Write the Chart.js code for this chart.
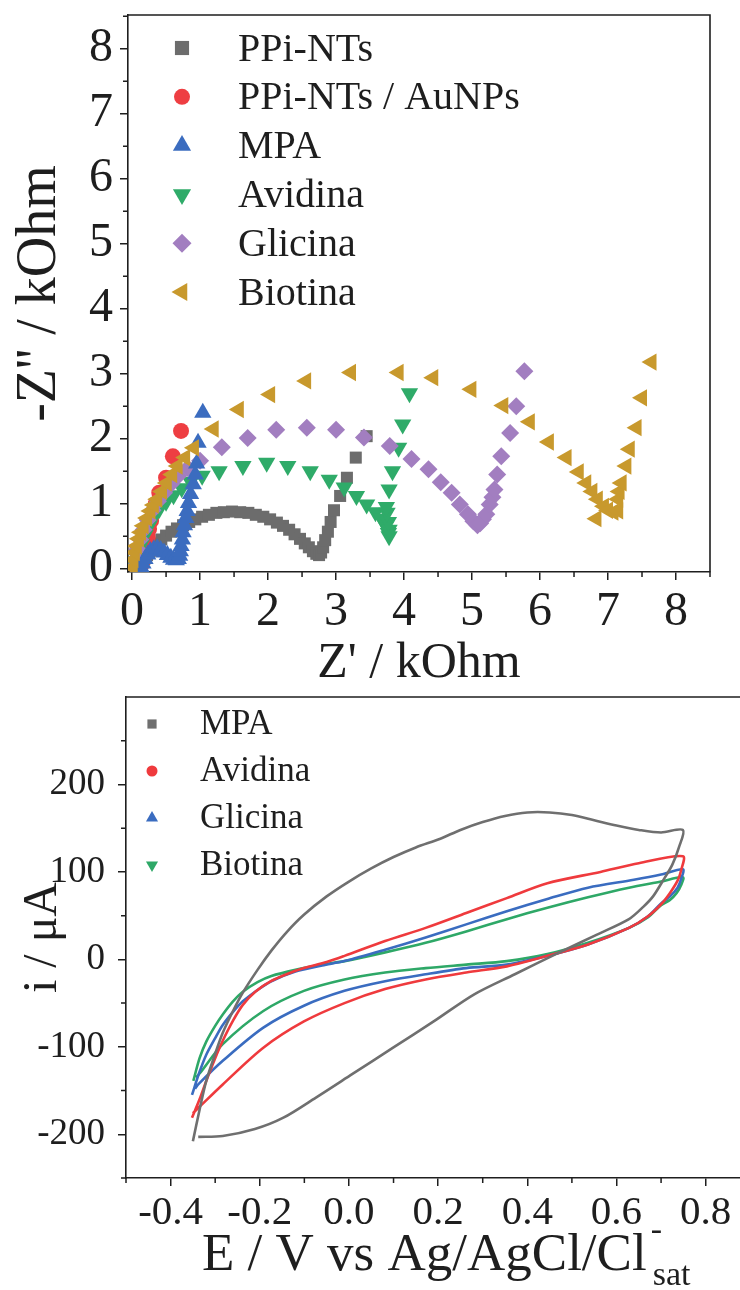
<!DOCTYPE html>
<html>
<head>
<meta charset="utf-8">
<script src="https://cdn.jsdelivr.net/npm/chart.js@4.4.1/dist/chart.umd.min.js"></script>
<style>
  html, body { margin: 0; padding: 0; background: #fff; }
  body { width: 740px; height: 1290px; position: relative; overflow: hidden; }
  .panel { position: absolute; left: 0; width: 740px; }
  #eisBox { top: 0; height: 700px; }
  #cvBox { top: 680px; height: 610px; }
</style>
</head>
<body>
<div class="panel" id="eisBox"><canvas id="eisChart"></canvas></div>
<div class="panel" id="cvBox"><canvas id="cvChart"></canvas></div>
<script>
// ---- Nyquist data, [Z' kOhm, -Z'' kOhm] ----
const ppiNts = [[0.10,0.00],[0.12,0.04],[0.15,0.09],[0.18,0.15],[0.22,0.21],[0.26,0.27],[0.31,0.33],[0.37,0.39],[0.43,0.45],[0.50,0.51],[0.58,0.57],[0.66,0.62],[0.75,0.67],[0.84,0.72],[0.93,0.76],[1.03,0.80],[1.13,0.83],[1.24,0.86],[1.35,0.87],[1.47,0.88],[1.59,0.87],[1.71,0.86],[1.82,0.83],[1.93,0.80],[2.03,0.76],[2.13,0.71],[2.22,0.66],[2.31,0.60],[2.39,0.53],[2.47,0.46],[2.54,0.39],[2.60,0.33],[2.66,0.27],[2.71,0.23],[2.75,0.21],[2.78,0.25],[2.81,0.33],[2.84,0.44],[2.88,0.57],[2.92,0.72],[2.97,0.90],[3.06,1.12],[3.16,1.40],[3.29,1.71],[3.45,2.04]];
const ppiNtsAu = [[0.11,0.00],[0.13,0.05],[0.15,0.11],[0.17,0.19],[0.19,0.28],[0.21,0.38],[0.23,0.49],[0.25,0.61],[0.28,0.74],[0.31,0.87],[0.35,1.00],[0.40,1.17],[0.50,1.40],[0.60,1.73],[0.72,2.12]];
const mpa = [[0.14,0.01],[0.16,0.08],[0.19,0.15],[0.23,0.22],[0.27,0.27],[0.32,0.30],[0.37,0.31],[0.42,0.29],[0.47,0.25],[0.52,0.21],[0.57,0.17],[0.61,0.14],[0.65,0.13],[0.68,0.15],[0.70,0.20],[0.71,0.27],[0.72,0.35],[0.74,0.45],[0.75,0.56],[0.77,0.67],[0.79,0.78],[0.81,0.89],[0.83,1.01],[0.86,1.15],[0.90,1.30],[0.93,1.45],[0.95,1.62],[0.97,1.94],[1.04,2.40]];
const avidina = [[0.05,0.02],[0.07,0.12],[0.10,0.25],[0.14,0.38],[0.19,0.52],[0.25,0.66],[0.32,0.80],[0.40,0.92],[0.50,1.03],[0.61,1.13],[0.73,1.24],[0.86,1.34],[1.03,1.43],[1.28,1.50],[1.63,1.58],[1.98,1.63],[2.29,1.58],[2.62,1.50],[2.90,1.37],[3.12,1.25],[3.30,1.12],[3.45,0.99],[3.58,0.87],[3.67,0.77],[3.73,0.66],[3.77,0.55],[3.78,0.50],[3.78,0.60],[3.77,0.72],[3.75,0.86],[3.74,0.95],[3.78,1.22],[3.83,1.50],[3.92,1.86],[3.98,2.22],[4.08,2.70]];
const glicina = [[0.03,0.03],[0.05,0.15],[0.08,0.30],[0.12,0.45],[0.17,0.60],[0.23,0.75],[0.30,0.90],[0.38,1.04],[0.47,1.17],[0.57,1.30],[0.68,1.43],[0.82,1.55],[1.00,1.66],[1.32,1.87],[1.70,2.01],[2.12,2.14],[2.57,2.17],[3.00,2.14],[3.41,2.02],[3.79,1.89],[4.11,1.69],[4.36,1.53],[4.54,1.33],[4.70,1.17],[4.82,0.99],[4.94,0.84],[5.02,0.73],[5.08,0.67],[5.12,0.70],[5.16,0.76],[5.21,0.84],[5.26,0.99],[5.30,1.10],[5.33,1.22],[5.37,1.45],[5.43,1.73],[5.56,2.09],[5.65,2.50],[5.77,3.04]];
const biotina = [[0.01,0.02],[0.02,0.14],[0.04,0.25],[0.07,0.35],[0.10,0.46],[0.13,0.56],[0.17,0.66],[0.22,0.78],[0.27,0.89],[0.32,0.98],[0.37,1.07],[0.44,1.19],[0.51,1.32],[0.59,1.45],[0.67,1.58],[0.78,1.71],[0.91,1.86],[1.20,2.15],[1.57,2.45],[2.03,2.68],[2.56,2.89],[3.22,3.02],[3.92,3.02],[4.43,2.94],[4.99,2.76],[5.46,2.51],[5.85,2.26],[6.13,1.95],[6.39,1.71],[6.57,1.49],[6.68,1.32],[6.77,1.19],[6.85,1.07],[6.94,0.96],[6.83,0.77],[7.00,0.90],[7.08,0.87],[7.15,0.89],[7.15,1.07],[7.17,1.19],[7.20,1.32],[7.27,1.58],[7.32,1.84],[7.42,2.17],[7.50,2.63],[7.64,3.18]];

const eisTicks = [0, 1, 2, 3, 4, 5, 6, 7, 8];
const eisMinor = [0.5, 1.5, 2.5, 3.5, 4.5, 5.5, 6.5, 7.5, 8.5];

// ---- voltammograms, [E / V, i / uA] ----
const cvMpa = [[-0.350,-208],[-0.335,-172],[-0.320,-139],[-0.300,-108],[-0.283,-84],[-0.260,-59],[-0.238,-38],[-0.205,-12],[-0.174,10],[-0.140,31],[-0.101,51],[-0.050,72],[0.000,89],[0.050,104],[0.100,117],[0.150,128],[0.205,138],[0.250,148],[0.300,157],[0.350,164],[0.400,168],[0.450,168],[0.500,165],[0.550,159],[0.600,153],[0.650,148],[0.700,145],[0.749,148],[0.740,128],[0.725,108],[0.703,89],[0.682,72],[0.660,60],[0.628,46],[0.555,28],[0.464,6],[0.372,-17],[0.281,-40],[0.190,-71],[0.099,-101],[0.008,-131],[-0.074,-158],[-0.147,-181],[-0.211,-194],[-0.283,-202],[-0.338,-203]];
const cvAvidina = [[-0.352,-181],[-0.335,-160],[-0.320,-139],[-0.300,-113],[-0.283,-93],[-0.260,-70],[-0.238,-52],[-0.210,-37],[-0.175,-25],[-0.140,-17],[-0.101,-10],[-0.050,-3],[-0.010,4],[0.081,21],[0.172,36],[0.263,53],[0.354,70],[0.445,87],[0.564,100],[0.650,110],[0.749,118],[0.745,102],[0.737,90],[0.720,76],[0.700,63],[0.670,49],[0.628,36],[0.536,17],[0.445,4],[0.354,-8],[0.263,-15],[0.172,-23],[0.081,-34],[-0.010,-50],[-0.101,-71],[-0.192,-101],[-0.283,-143],[-0.334,-168],[-0.350,-176]];
const cvGlicina = [[-0.352,-155],[-0.336,-130],[-0.320,-109],[-0.300,-90],[-0.283,-75],[-0.260,-60],[-0.238,-48],[-0.205,-35],[-0.174,-25],[-0.120,-14],[-0.060,-7],[-0.010,-2],[0.081,11],[0.172,25],[0.263,40],[0.354,55],[0.445,69],[0.536,82],[0.639,91],[0.700,97],[0.749,103],[0.745,92],[0.737,82],[0.720,72],[0.700,64],[0.670,49],[0.628,36],[0.536,17],[0.445,4],[0.354,-6],[0.263,-10],[0.172,-17],[0.081,-25],[-0.010,-36],[-0.101,-53],[-0.192,-78],[-0.283,-116],[-0.338,-143],[-0.345,-148]];
const cvBiotina = [[-0.349,-139],[-0.335,-113],[-0.320,-94],[-0.300,-76],[-0.283,-63],[-0.260,-48],[-0.238,-37],[-0.205,-26],[-0.174,-19],[-0.120,-12],[-0.060,-6],[-0.010,-2],[0.081,8],[0.172,19],[0.263,32],[0.354,46],[0.445,59],[0.536,71],[0.628,82],[0.700,89],[0.749,94],[0.745,85],[0.735,76],[0.720,68],[0.700,62],[0.670,48],[0.628,36],[0.536,19],[0.445,6],[0.354,-2],[0.263,-6],[0.172,-10],[0.081,-15],[-0.010,-23],[-0.101,-36],[-0.192,-59],[-0.283,-97],[-0.334,-130],[-0.343,-135]];

const cvXTicks = [-0.4, -0.2, 0, 0.2, 0.4, 0.6, 0.8];
const cvXMinor = [-0.5, -0.3, -0.1, 0.1, 0.3, 0.5, 0.7];
const cvYTicks = [-200, -100, 0, 100, 200];
const cvYMinor = [-250, -150, -50, 50, 150, 250];

const INK = '#1e1e1e';
const SERIF = "'Liberation Serif', 'Times New Roman', serif";
Chart.defaults.font.family = SERIF;
Chart.defaults.color = INK;

// short ticks between the labelled ones
const minorTicks = {
  id: 'minorTicks',
  afterDraw(chart, args, opts) {
    const { ctx, chartArea, scales } = chart;
    ctx.save();
    ctx.strokeStyle = INK;
    ctx.lineWidth = 1.5;
    ctx.beginPath();
    (opts.x || []).forEach(v => {
      const px = scales.x.getPixelForValue(v);
      ctx.moveTo(px, chartArea.bottom);
      ctx.lineTo(px, chartArea.bottom + opts.len);
    });
    (opts.y || []).forEach(v => {
      const py = scales.y.getPixelForValue(v);
      ctx.moveTo(chartArea.left - opts.len, py);
      ctx.lineTo(chartArea.left, py);
    });
    ctx.stroke();
    ctx.restore();
  }
};

// top (and right) edge of the frame
const frame = {
  id: 'frame',
  afterDraw(chart, args, opts) {
    const { ctx, chartArea } = chart;
    const right = opts.right ? chartArea.right : chart.width;
    ctx.save();
    ctx.strokeStyle = INK;
    ctx.lineWidth = 1.6;
    ctx.beginPath();
    ctx.moveTo(chartArea.left, chartArea.top);
    ctx.lineTo(right, chartArea.top);
    if (opts.right) ctx.lineTo(right, chartArea.bottom);
    ctx.stroke();
    ctx.restore();
  }
};

// legend inside the plot, marker + label per dataset
const markerLegend = {
  id: 'markerLegend',
  afterDatasetsDraw(chart, args, opts) {
    const { ctx, chartArea } = chart;
    ctx.save();
    ctx.font = `${opts.fontSize}px ${SERIF}`;
    ctx.textBaseline = 'middle';
    chart.data.datasets.forEach((ds, i) => {
      const y = chartArea.top + opts.top + i * opts.step;
      ctx.fillStyle = ds.legendColor || ds.backgroundColor;
      Chart.helpers.drawPoint(ctx, {
        pointStyle: ds.legendStyle || ds.pointStyle,
        rotation: ds.pointRotation || 0,
        radius: opts.radii[i],
        borderWidth: 0
      }, chartArea.left + opts.markerX, y);
      ctx.fillStyle = INK;
      ctx.fillText(ds.label, chartArea.left + opts.textX, y + opts.textDy);
    });
    ctx.restore();
  }
};

// x title with superscript / subscript
const cvTitle = {
  id: 'cvTitle',
  afterDraw(chart) {
    const { ctx } = chart;
    const main = 'E / V vs Ag/AgCl/Cl';
    ctx.save();
    ctx.fillStyle = INK;
    ctx.textBaseline = 'alphabetic';
    ctx.font = `53px ${SERIF}`;
    const x0 = 202, base = 590;
    ctx.fillText(main, x0, base);
    const w = ctx.measureText(main).width;
    ctx.font = `34px ${SERIF}`;
    ctx.fillText('-', x0 + w + 4, base - 30);
    ctx.fillText('sat', x0 + w + 6, base + 15);
    ctx.restore();
  }
};

// keep the plot box where the axes are, ignore label overhang
const noOverhang = s => { s.paddingTop = 0; s.paddingBottom = 0; s.paddingLeft = 0; s.paddingRight = 0; };

const axisGrid = { drawOnChartArea: false, tickLength: 8, color: INK, lineWidth: 1.5 };
const axisBorder = { color: INK, width: 1.6 };

function eisSet(label, data, color, style, rot, r, order) {
  return {
    label, data, order,
    backgroundColor: color, borderColor: color,
    pointStyle: style, pointRotation: rot, pointRadius: r, pointBorderWidth: 0,
    pointHoverRadius: r, showLine: false
  };
}

new Chart(document.getElementById('eisChart'), {
  type: 'scatter',
  data: {
    datasets: [
      eisSet('PPi-NTs', ppiNts, '#6c6c6c', 'rect', 0, 8.5, 6),
      eisSet('PPi-NTs / AuNPs', ppiNtsAu, '#ee3e42', 'circle', 0, 8, 5),
      eisSet('MPA', mpa, '#3b6cbf', 'triangle', 0, 10, 2),
      eisSet('Avidina', avidina, '#2fab69', 'triangle', 180, 10, 4),
      eisSet('Glicina', glicina, '#a27ec0', 'rectRot', 0, 9, 3),
      eisSet('Biotina', biotina, '#c8992d', 'triangle', -90, 10, 1)
    ]
  },
  options: {
    responsive: true,
    maintainAspectRatio: false,
    animation: false,
    layout: { padding: { top: 15, right: 30, left: 0, bottom: 0 } },
    plugins: {
      legend: { display: false },
      tooltip: { enabled: false },
      minorTicks: { x: eisMinor, y: eisMinor, len: 5 },
      frame: { right: true },
      markerLegend: { markerX: 54, textX: 110, top: 33, step: 48.8, fontSize: 40, textDy: 2, radii: [10, 8, 10.5, 10.5, 9.5, 10.5] }
    },
    scales: {
      x: {
        type: 'linear', min: -0.06, max: 8.5,
        afterBuildTicks: s => { s.ticks = eisTicks.map(v => ({ value: v })); },
        afterFit: s => { s.height = 128; noOverhang(s); },
        ticks: { font: { size: 48 }, padding: 4, autoSkip: false, maxRotation: 0, callback: v => String(v) },
        grid: axisGrid, border: axisBorder,
        title: { display: true, text: "Z' / kOhm", font: { size: 50 }, padding: { top: 0, bottom: 6 } }
      },
      y: {
        type: 'linear', min: -0.05, max: 8.52,
        afterBuildTicks: s => { s.ticks = eisTicks.map(v => ({ value: v })); },
        afterFit: s => { s.width = 128; noOverhang(s); },
        ticks: { font: { size: 48 }, padding: 7, autoSkip: false, callback: v => String(v) },
        grid: axisGrid, border: axisBorder,
        title: { display: true, text: "-Z'' / kOhm", font: { size: 56 }, padding: { top: 7, bottom: 0 } }
      }
    }
  },
  plugins: [minorTicks, frame, markerLegend]
});

function cvSet(label, data, color, legendStyle, rot) {
  return {
    label, data, showLine: true, tension: 0.3,
    borderColor: color, backgroundColor: color, borderWidth: 2.6,
    pointRadius: 0, legendStyle, pointRotation: rot, legendColor: color
  };
}

new Chart(document.getElementById('cvChart'), {
  type: 'scatter',
  data: {
    datasets: [
      cvSet('MPA', cvMpa, '#6f6f6f', 'rect', 0),
      cvSet('Avidina', cvAvidina, '#ef3a3d', 'circle', 0),
      cvSet('Glicina', cvGlicina, '#3a6cc0', 'triangle', 0),
      cvSet('Biotina', cvBiotina, '#2ea867', 'triangle', 180)
    ]
  },
  options: {
    responsive: true,
    maintainAspectRatio: false,
    animation: false,
    layout: { padding: { top: 17, right: 0, left: 0, bottom: 0 } },
    plugins: {
      legend: { display: false },
      tooltip: { enabled: false },
      minorTicks: { x: cvXMinor, y: cvYMinor, len: 5 },
      frame: { right: false },
      markerLegend: { markerX: 26, textX: 74, top: 27, step: 47, fontSize: 35, textDy: 1, radii: [6.5, 5.5, 7, 7] }
    },
    scales: {
      x: {
        type: 'linear', min: -0.5, max: 0.877,
        afterBuildTicks: s => { s.ticks = cvXTicks.map(v => ({ value: v })); },
        afterFit: s => { s.height = 112; noOverhang(s); },
        ticks: { font: { size: 41 }, padding: 3, autoSkip: false, maxRotation: 0, callback: v => v.toFixed(1) },
        grid: axisGrid, border: axisBorder
      },
      y: {
        type: 'linear', min: -250, max: 300,
        afterBuildTicks: s => { s.ticks = cvYTicks.map(v => ({ value: v })); },
        afterFit: s => { s.width = 126; noOverhang(s); },
        ticks: { font: { size: 37 }, padding: 13, autoSkip: false, callback: v => String(v) },
        grid: axisGrid, border: axisBorder,
        title: { display: true, text: 'i / μA', font: { size: 48 }, padding: { top: 15, bottom: 0 } }
      }
    }
  },
  plugins: [minorTicks, frame, markerLegend, cvTitle]
});
</script>
</body>
</html>
